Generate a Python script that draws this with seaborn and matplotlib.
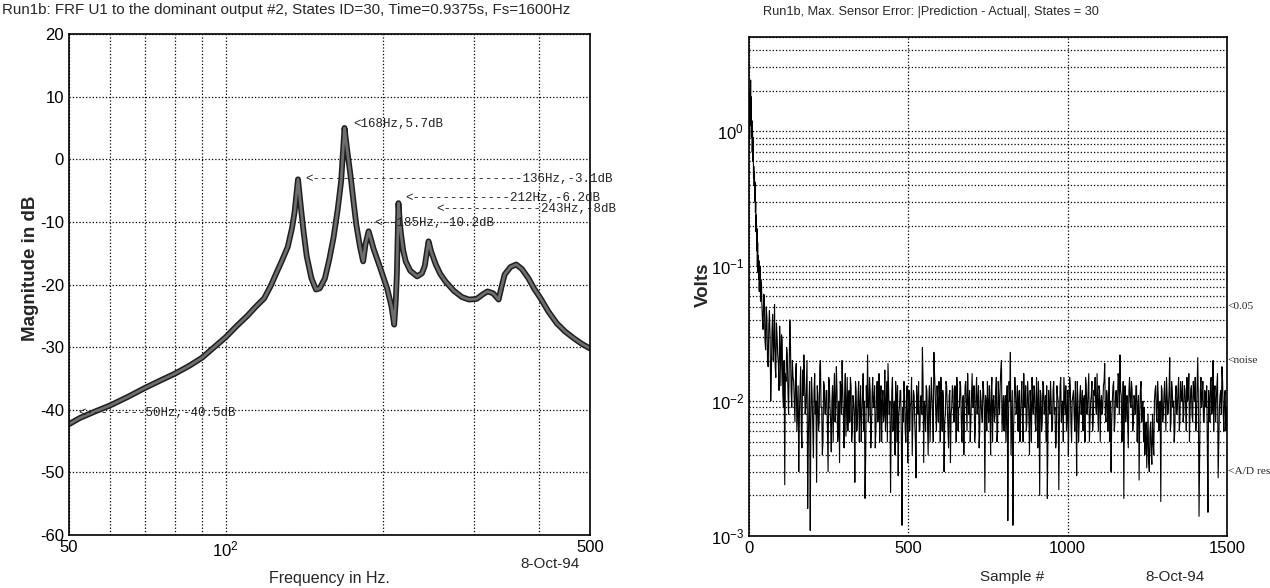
import numpy as np
import pandas as pd
import seaborn as sns
import matplotlib.pyplot as plt
import matplotlib.patheffects as pe
from matplotlib import ticker

# FRF magnitude curve
freq_hz = [50, 52.5, 56, 60, 65, 70, 75, 80, 85, 90, 95, 100, 105, 110, 114, 118.5,
           122, 125, 128, 131.5, 134, 135.5, 137.6, 139.5, 141, 143, 146, 149, 151.5,
           155, 158, 161, 164, 166.5, 169, 171, 173.5, 176, 178, 181, 183.5, 185.5,
           188, 190, 192, 198, 204, 208, 210.5, 212, 213, 214.5, 216, 217, 219, 221.5,
           226, 233, 238, 241, 245, 248, 253, 258, 264, 274, 284, 293, 303, 311, 318,
           326, 334, 338, 343, 352, 361, 370, 381, 391, 402, 416, 432, 448, 466, 483, 500]
mag_db = [-42.3, -41.3, -40.3, -39.3, -37.9, -36.5, -35.3, -34.2, -33.0, -31.7, -30.0,
          -28.4, -26.6, -25.0, -23.6, -22.2, -20.2, -18.2, -16.3, -14.0, -11.0, -8.5,
          -3.2, -8.0, -11.5, -15.5, -19.0, -20.8, -20.6, -19.0, -16.0, -12.5, -8.0, -3.5,
          5.0, 1.5, -2.5, -7.0, -10.4, -14.0, -16.3, -13.5, -11.5, -12.8, -14.2, -17.4,
          -20.6, -23.5, -26.4, -22.5, -18.4, -7.0, -10.5, -12.0, -14.5, -16.3, -17.8,
          -18.7, -18.2, -17.0, -13.1, -14.8, -16.8, -18.3, -19.5, -21.0, -22.0, -22.4,
          -22.3, -21.6, -21.1, -21.4, -22.4, -20.5, -18.4, -17.2, -16.8, -17.5, -19.0,
          -20.7, -22.2, -24.3, -26.2, -27.5, -28.6, -29.5, -30.2]

peak_freq = [168, 136, 212, 243, 185, 50]
peak_db = [5.7, -3.1, -6.2, -8, -10.2, -40.5]
peak_text = ['<168Hz,5.7dB',
             '<' + '-' * 28 + '136Hz,-3.1dB',
             '<' + '-' * 13 + '212Hz,-6.2dB',
             '<' + '-' * 13 + '243Hz,-8dB',
             '<--185Hz,-10.2dB',
             '<' + '-' * 8 + '50Hz,-40.5dB']

# max sensor error in mV
# samples 0..39 one by one
err_head_mv = [800, 1500, 900, 2000, 1300, 2400, 1100, 1800, 900, 1200,
               700, 1000, 600, 900, 450, 550, 400, 500, 300, 420,
               250, 300, 180, 240, 130, 190, 100, 150, 90, 120,
               80, 110, 65, 90, 70, 100, 55, 80, 60, 75]
# samples 40, 44, ..., 1496
err_tail_mv = [
    55, 34, 60, 24, 42, 18, 47, 10, 33, 20, 52, 15, 30, 19, 36, 13, 28, 9, 2.4, 14, 22, 8, 40, 12, 20,
    14, 7, 19, 9, 3.0, 12, 6, 17, 22, 8, 13, 1.6, 10, 1.1, 15, 6.5, 12, 8, 2.5, 11, 7, 20, 9, 5, 13,
    8, 12, 3.0, 14, 7, 10, 5, 16, 9, 12, 6, 3.5, 13, 20, 8, 11, 5.5, 15, 9, 7, 13, 6, 10, 2.5, 12,
    7, 14, 9, 5, 11, 6, 1.9, 13, 22, 8, 12, 6, 15, 9, 4.5, 11, 7, 16, 10, 5, 12, 8, 6, 14, 19,
    8, 2.1, 12, 6, 10, 14, 5, 2.8, 9, 12, 1.2, 7, 11, 5, 13, 8, 6, 10, 4, 12, 7, 2.7, 9, 14, 6,
    11, 25, 3.5, 9, 13, 7, 10, 5, 15, 8, 23, 12, 6, 10, 14, 5, 9, 12, 3.0, 8, 13, 6, 11, 3.5, 9,
    12, 7, 10, 15, 6, 9, 13, 5, 11, 8, 14, 6, 10, 12, 7, 16, 9, 5, 11, 8, 13, 6, 10, 7, 12,
    2.1, 10, 14, 7, 9, 12, 5, 11, 8, 15, 6, 10, 13, 20, 8, 6, 11, 9, 1.3, 14, 23, 7, 1.2, 10, 12,
    9, 6, 12, 8, 14, 5, 10, 13, 7, 11, 4, 9, 15, 8, 12, 6, 10, 14, 2.0, 11, 7, 13, 9, 5, 1.9,
    12, 8, 10, 6, 14, 9, 5, 11, 2.2, 13, 7, 10, 15, 8, 6, 12, 9, 13, 5, 11, 8, 14, 2.8, 10, 7,
    13, 9, 6, 11, 15, 8, 12, 5, 10, 14, 7, 11, 9, 16, 6, 12, 10, 8, 13, 19, 7, 11, 9, 5, 3.0,
    10, 14, 7, 12, 9, 15, 22, 11, 6, 1.9, 13, 9, 7, 12, 10, 14, 6, 11, 8, 13, 9, 2.6, 12, 7, 10,
    9, 6, 3.2, 8, 3.0, 7, 3.4, 5, 10, 13, 7, 11, 9, 1.8, 12, 8, 14, 6, 11, 9, 21, 7, 12, 10, 6,
    13, 9, 15, 7, 11, 14, 8, 12, 6, 10, 16, 9, 13, 7, 11, 15, 8, 21, 1.4, 12, 9, 14, 7, 11, 13,
    1.5, 10, 14, 8, 20, 11, 7, 13, 2.7, 9, 12, 18, 8, 11, 6]
# samples 42, 46, ..., 1498
err_mid_mv = [
    40, 62, 28, 50, 20, 36, 30, 16, 44, 26, 18, 38, 22, 12, 25, 31, 11, 20, 16, 25, 12, 18, 26, 9, 15,
    10, 16, 6, 13, 8, 18, 4.5, 11, 15, 9, 20, 5, 14, 7, 11, 3.8, 16, 10, 13, 6, 18, 9, 4, 14, 8,
    12, 6, 15, 9, 4.2, 13, 11, 7, 18, 5, 10, 14, 8, 12, 4.5, 16, 9, 6, 12, 15, 5, 11, 8, 14, 6,
    11, 5, 13, 8, 16, 10, 4, 9, 7, 15, 4.5, 11, 9, 13, 6, 14, 8, 5, 13, 10, 7, 17, 9, 5, 12,
    10, 6, 15, 9, 4, 11, 13, 8, 12, 5, 9, 14, 6, 10, 3.5, 12, 9, 15, 7, 11, 5, 13, 8, 6, 10,
    8, 14, 10, 6, 12, 4, 13, 9, 11, 5, 16, 8, 13, 7, 11, 15, 6, 10, 7, 14, 9, 4.5, 12, 8, 13,
    7, 13, 5, 11, 9, 14, 7, 10, 4, 13, 9, 16, 8, 5, 11, 9, 13, 6, 15, 10, 4.5, 12, 8, 14, 9,
    11, 6, 9, 13, 4, 15, 10, 7, 12, 5, 14, 8, 17, 6, 11, 9, 5, 13, 7, 10, 4, 12, 6, 15, 8,
    13, 10, 5, 11, 7, 16, 9, 6, 14, 8, 12, 5, 10, 13, 7, 15, 4.5, 9, 12, 6, 14, 8, 11, 13, 6,
    9, 14, 6, 12, 8, 4.5, 13, 10, 7, 15, 9, 5, 11, 13, 8, 4, 15, 7, 10, 12, 6, 9, 14, 5, 11,
    8, 12, 10, 5, 13, 9, 16, 7, 11, 6, 12, 15, 8, 10, 13, 5, 11, 9, 14, 8, 12, 6, 15, 10, 7,
    13, 6, 11, 9, 16, 8, 12, 5, 14, 10, 7, 11, 4.5, 15, 9, 12, 7, 10, 13, 5, 11, 8, 14, 9, 5,
    4, 7, 5, 3.5, 6, 4.2, 8, 4, 12, 8, 14, 6, 10, 13, 7, 11, 9, 15, 8, 12, 6, 14, 9, 5, 11,
    8, 12, 6, 14, 10, 7, 13, 9, 15, 11, 5, 12, 8, 14, 10, 6, 13, 9, 4.5, 15, 11, 7, 12, 9, 5,
    12, 7, 15, 9, 6, 13, 10, 16, 5, 11, 8, 14, 6, 12, 9]

level_volts = [0.05, 0.02, 0.003]
level_text = ['<0.05', '<noise', '<A/D res']


def main():
    sns.set_theme(style='white')
    plt.rcParams['font.family'] = ['Liberation Sans', 'DejaVu Sans']
    plt.rcParams['axes.unicode_minus'] = False
    plt.rcParams['mathtext.fontset'] = 'custom'
    plt.rcParams['mathtext.rm'] = 'Liberation Sans'

    fig = plt.figure(figsize=(12.7, 5.88), dpi=100, facecolor='white')
    ax1 = fig.add_axes([0.0543, 0.0901, 0.4102, 0.852])
    ax2 = fig.add_axes([0.5898, 0.0884, 0.3764, 0.8486])

    # ---- left: FRF magnitude ----
    line = sns.lineplot(x=freq_hz, y=mag_db, ax=ax1, estimator=None, sort=False,
                        color='#6e6e6e', linewidth=2.0)
    line.lines[0].set_path_effects([pe.Stroke(linewidth=4.2, foreground='#1e1e1e'), pe.Normal()])
    ax1.set_xscale('log')
    ax1.set_xlim(50, 500)
    ax1.set_ylim(-60, 20)
    ax1.set_yticks(np.arange(-60, 21, 10))
    ax1.xaxis.set_major_locator(ticker.FixedLocator([50, 100, 500]))
    ax1.xaxis.set_major_formatter(ticker.FixedFormatter(['50', r'$\mathregular{10^2}$', '500']))
    ax1.xaxis.set_minor_locator(ticker.FixedLocator([60, 70, 80, 90, 200, 300, 400]))
    ax1.xaxis.set_minor_formatter(ticker.NullFormatter())

    for f, db, t in zip(peak_freq, peak_db, peak_text):
        ax1.annotate(t, xy=(f, db), xytext=(7, 0), textcoords='offset points',
                     ha='left', va='center', fontsize=9, family='Liberation Mono',
                     color='#222222', annotation_clip=False)

    ax1.set_ylabel('Magnitude in dB', fontsize=13.5, fontweight='bold')
    ax1.yaxis.set_label_coords(-0.058, 0.533)
    ax1.set_xlabel('Frequency in Hz.', fontsize=11.5)
    ax1.xaxis.set_label_coords(0.5, -0.072)

    # ---- right: max sensor error ----
    err = pd.DataFrame({
        'sample': list(range(40)) + list(range(40, 1500, 4)) + list(range(42, 1500, 4)),
        'mv': err_head_mv + err_tail_mv + err_mid_mv,
    })
    err['volts'] = err['mv'] / 1000.0
    sns.lineplot(data=err, x='sample', y='volts', ax=ax2, estimator=None, sort=True,
                 color='black', linewidth=0.8)
    ax2.set_yscale('log')
    ax2.set_xlim(0, 1500)
    ax2.set_ylim(1e-3, 5)
    ax2.set_xticks([0, 500, 1000, 1500])
    ax2.yaxis.set_major_locator(ticker.LogLocator(base=10))
    ax2.yaxis.set_minor_locator(ticker.LogLocator(base=10, subs=np.arange(2, 10)))
    ax2.yaxis.set_minor_formatter(ticker.NullFormatter())

    for v, t in zip(level_volts, level_text):
        ax2.annotate(t, xy=(1.0, v), xycoords=('axes fraction', 'data'), xytext=(0.5, 0),
                     textcoords='offset points', ha='left', va='center', fontsize=8.2,
                     family='Liberation Serif', annotation_clip=False)

    ax2.set_ylabel('Volts', fontsize=13.5, fontweight='bold')
    ax2.yaxis.set_label_coords(-0.078, 0.503)
    ax2.set_xlabel('Sample #', fontsize=11)
    ax2.xaxis.set_label_coords(0.55, -0.068)

    for ax in (ax1, ax2):
        ax.set_facecolor('white')
        ax.grid(True, which='both', linestyle=':', color='black', linewidth=0.9)
        ax.tick_params(which='both', direction='in', labelsize=12, colors='black')
        ax.tick_params(which='major', length=4)
        ax.tick_params(which='minor', length=2)
        for s in ax.spines.values():
            s.set_color('black')
            s.set_linewidth(1.2)

    fig.text(0.0016, 0.983, 'Run1b: FRF U1 to the dominant output #2, States ID=30, '
             'Time=0.9375s, Fs=1600Hz', ha='left', va='center', fontsize=10.9)
    fig.text(0.6008, 0.9796, 'Run1b, Max. Sensor Error: |Prediction - Actual|, States = 30',
             ha='left', va='center', fontsize=9.2)
    fig.text(0.433, 0.04, '8-Oct-94', ha='center', va='center', fontsize=11)
    fig.text(0.925, 0.019, '8-Oct-94', ha='center', va='center', fontsize=11)

    fig.savefig('out.png', dpi=100, facecolor='white')
    plt.close(fig)


if __name__ == '__main__':
    main()
